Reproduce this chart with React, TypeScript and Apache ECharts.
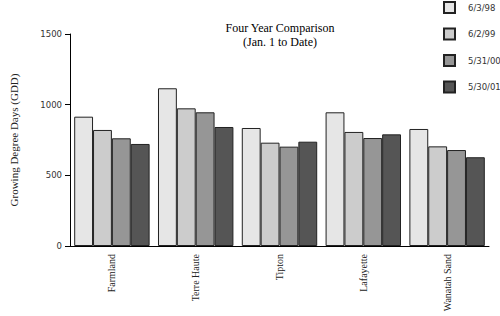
import React, { useEffect, useRef } from "react";
import * as echarts from "echarts";

const categories = ["Farmland", "Terre Haute", "Tipton", "Lafayette", "Wanatah Sand"];
const seriesNames = ["6/3/98", "6/2/99", "5/31/00", "5/30/01"];
const values98 = [915, 1116, 835, 946, 828];
const values99 = [821, 974, 731, 807, 705];
const values00 = [762, 946, 703, 764, 679];
const values01 = [722, 842, 738, 790, 628];
const seriesColors = ["#e6e6e6", "#cccccc", "#969696", "#555555"];
const yTicks = { min: 0, max: 1500, interval: 500 };

export default function App() {
  const ref = useRef<HTMLDivElement>(null);
  useEffect(() => {
    document.body.style.margin = "0";
    const chart = echarts.init(ref.current!, null, { renderer: "svg" });
    const allValues = [values98, values99, values00, values01];
    chart.setOption({
      animation: false,
      backgroundColor: "#ffffff",
      title: {
        text: "Four Year Comparison\n(Jan. 1 to Date)",
        left: 280,
        top: 21,
        textAlign: "center",
        padding: 0,
        textStyle: {
          fontFamily: "Liberation Serif",
          fontSize: 12,
          fontWeight: "normal",
          lineHeight: 14,
          color: "#000",
        },
      },
      legend: {
        orient: "vertical",
        left: 443,
        top: 1,
        padding: 0,
        itemWidth: 11,
        itemHeight: 11,
        itemGap: 13.5,
        icon: "rect",
        data: seriesNames,
        textStyle: {
          fontFamily: "DejaVu Sans",
          fontSize: 8.5,
          color: "#333",
          padding: [0, 0, 0, 8],
        },
      },
      grid: { left: 65, right: 11, top: 34, bottom: 70, containLabel: false },
      xAxis: {
        type: "category",
        data: categories,
        axisLine: { lineStyle: { color: "#000", width: 1 } },
        axisTick: { alignWithLabel: true, length: 7, lineStyle: { color: "#000" } },
        axisLabel: {
          rotate: 90,
          margin: 8,
          fontFamily: "Liberation Serif",
          fontSize: 10,
          color: "#222",
          interval: 0,
        },
      },
      yAxis: {
        type: "value",
        min: yTicks.min,
        max: yTicks.max,
        interval: yTicks.interval,
        name: "Growing Degree Days (GDD)",
        nameLocation: "middle",
        nameGap: 51,
        nameRotate: 90,
        nameTextStyle: { fontFamily: "Liberation Serif", fontSize: 11, color: "#222" },
        axisLine: { show: true, lineStyle: { color: "#000", width: 1 } },
        axisTick: { show: true, length: 5, lineStyle: { color: "#000" } },
        axisLabel: {
          margin: 8,
          fontFamily: "DejaVu Sans",
          fontSize: 8.5,
          color: "#333",
          formatter: (v: number) => String(v),
        },
        splitLine: { show: false },
      },
      series: seriesNames.map((name, i) => ({
        name,
        type: "bar",
        data: allValues[i],
        barGap: "0%",
        barCategoryGap: "10%",
        itemStyle: { color: seriesColors[i], borderColor: "#222", borderWidth: 1 },
      })),
    });
    return () => chart.dispose();
  }, []);
  return (
    <div
      ref={ref}
      style={{ position: "fixed", left: 0, top: 0, width: 500, height: 316 }}
    />
  );
}
